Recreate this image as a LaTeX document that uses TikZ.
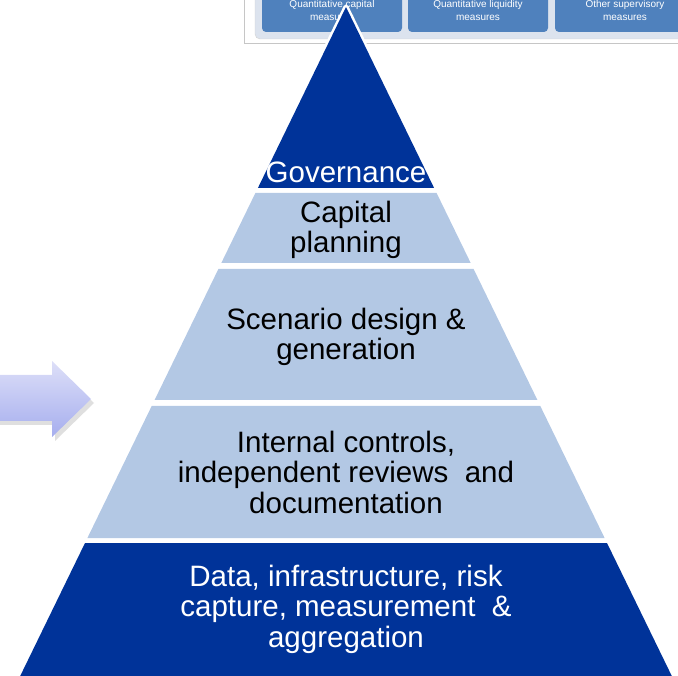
\documentclass[tikz,border=0pt]{standalone}
\usepackage{fontspec}
\setmainfont{Liberation Sans}
\definecolor{pyrdark}{HTML}{003399}
\definecolor{pyrlight}{HTML}{B3C8E4}
\definecolor{panelblue}{HTML}{4F81BD}
\definecolor{panelframe}{HTML}{DCE3EE}
\definecolor{arrowtop}{HTML}{DDDFF8}
\definecolor{arrowbot}{HTML}{A6AEEE}
\begin{document}
\begin{tikzpicture}[x=1pt,y=-1pt,
  tiertext/.style={font=\fontsize{29.5}{30.5}\selectfont, align=center, inner sep=0pt},
  paneltext/.style={font=\fontsize{10}{13}\selectfont, text=white, align=center, inner sep=0pt},
  panelbox/.style={fill=panelblue, rounded corners=4pt}]
\useasboundingbox (0,0) rectangle (678,676);
% top panel (cut off)
\begin{scope}
\clip (0,0) rectangle (678,676);
\draw[gray!45, fill=white] (244,-30) rectangle (720,43);
\draw[gray!35, fill=panelframe, rounded corners=5pt] (255,-30) rectangle (720,39);
\fill[panelbox] (262,-30) rectangle (402,32);
\fill[panelbox] (408,-30) rectangle (548,32);
\fill[panelbox] (555,-30) rectangle (720,32);
\node[paneltext] (p1) at (332,10) {Quantitative capital\\measures};
\node[paneltext] (p2) at (478,10) {Quantitative liquidity\\measures};
\node[paneltext] (p3) at (625,10) {Other supervisory\\measures};
\end{scope}
% arrow
\fill[gray, opacity=0.25] (0,378) -- (55,378) -- (55,366) -- (94,403) -- (55,441) -- (55,425) -- (0,425) -- cycle;
\shade[top color=arrowtop, bottom color=arrowbot] (0,375) -- (52,375) -- (52,361) -- (91,399) -- (52,437) -- (52,421) -- (0,421) -- cycle;
% pyramid tiers
\draw[white, line width=5pt, line join=round, fill=pyrdark] (346,7) -- (434.1,188) -- (257.9,188) -- cycle;
\fill[pyrdark] (346,7) -- (434.1,188) -- (257.9,188) -- cycle;
\fill[pyrlight] (255.4,193) -- (436.6,193) -- (470.7,263) -- (221.3,263) -- cycle;
\fill[pyrlight] (218.4,269) -- (473.6,269) -- (537.4,400) -- (154.6,400) -- cycle;
\fill[pyrlight] (151.7,406) -- (540.3,406) -- (604.6,538) -- (87.4,538) -- cycle;
\fill[pyrdark] (85,543) -- (607,543) -- (671.8,676) -- (20.2,676) -- cycle;
% texts
\node[tiertext, text=white] (t1) at (346,172) {Governance};
\node[tiertext] (t2) at (346,230) {Capital\\planning};
\node[tiertext] (t3) at (346,337) {Scenario design \&\\generation};
\node[tiertext] (t4) at (346,472) {Internal controls,\\independent reviews\ \ and\\documentation};
\node[tiertext, text=white] (t5) at (346,609) {Data, infrastructure, risk\\capture, measurement\ \ \&\\aggregation};
\end{tikzpicture}
\end{document}
